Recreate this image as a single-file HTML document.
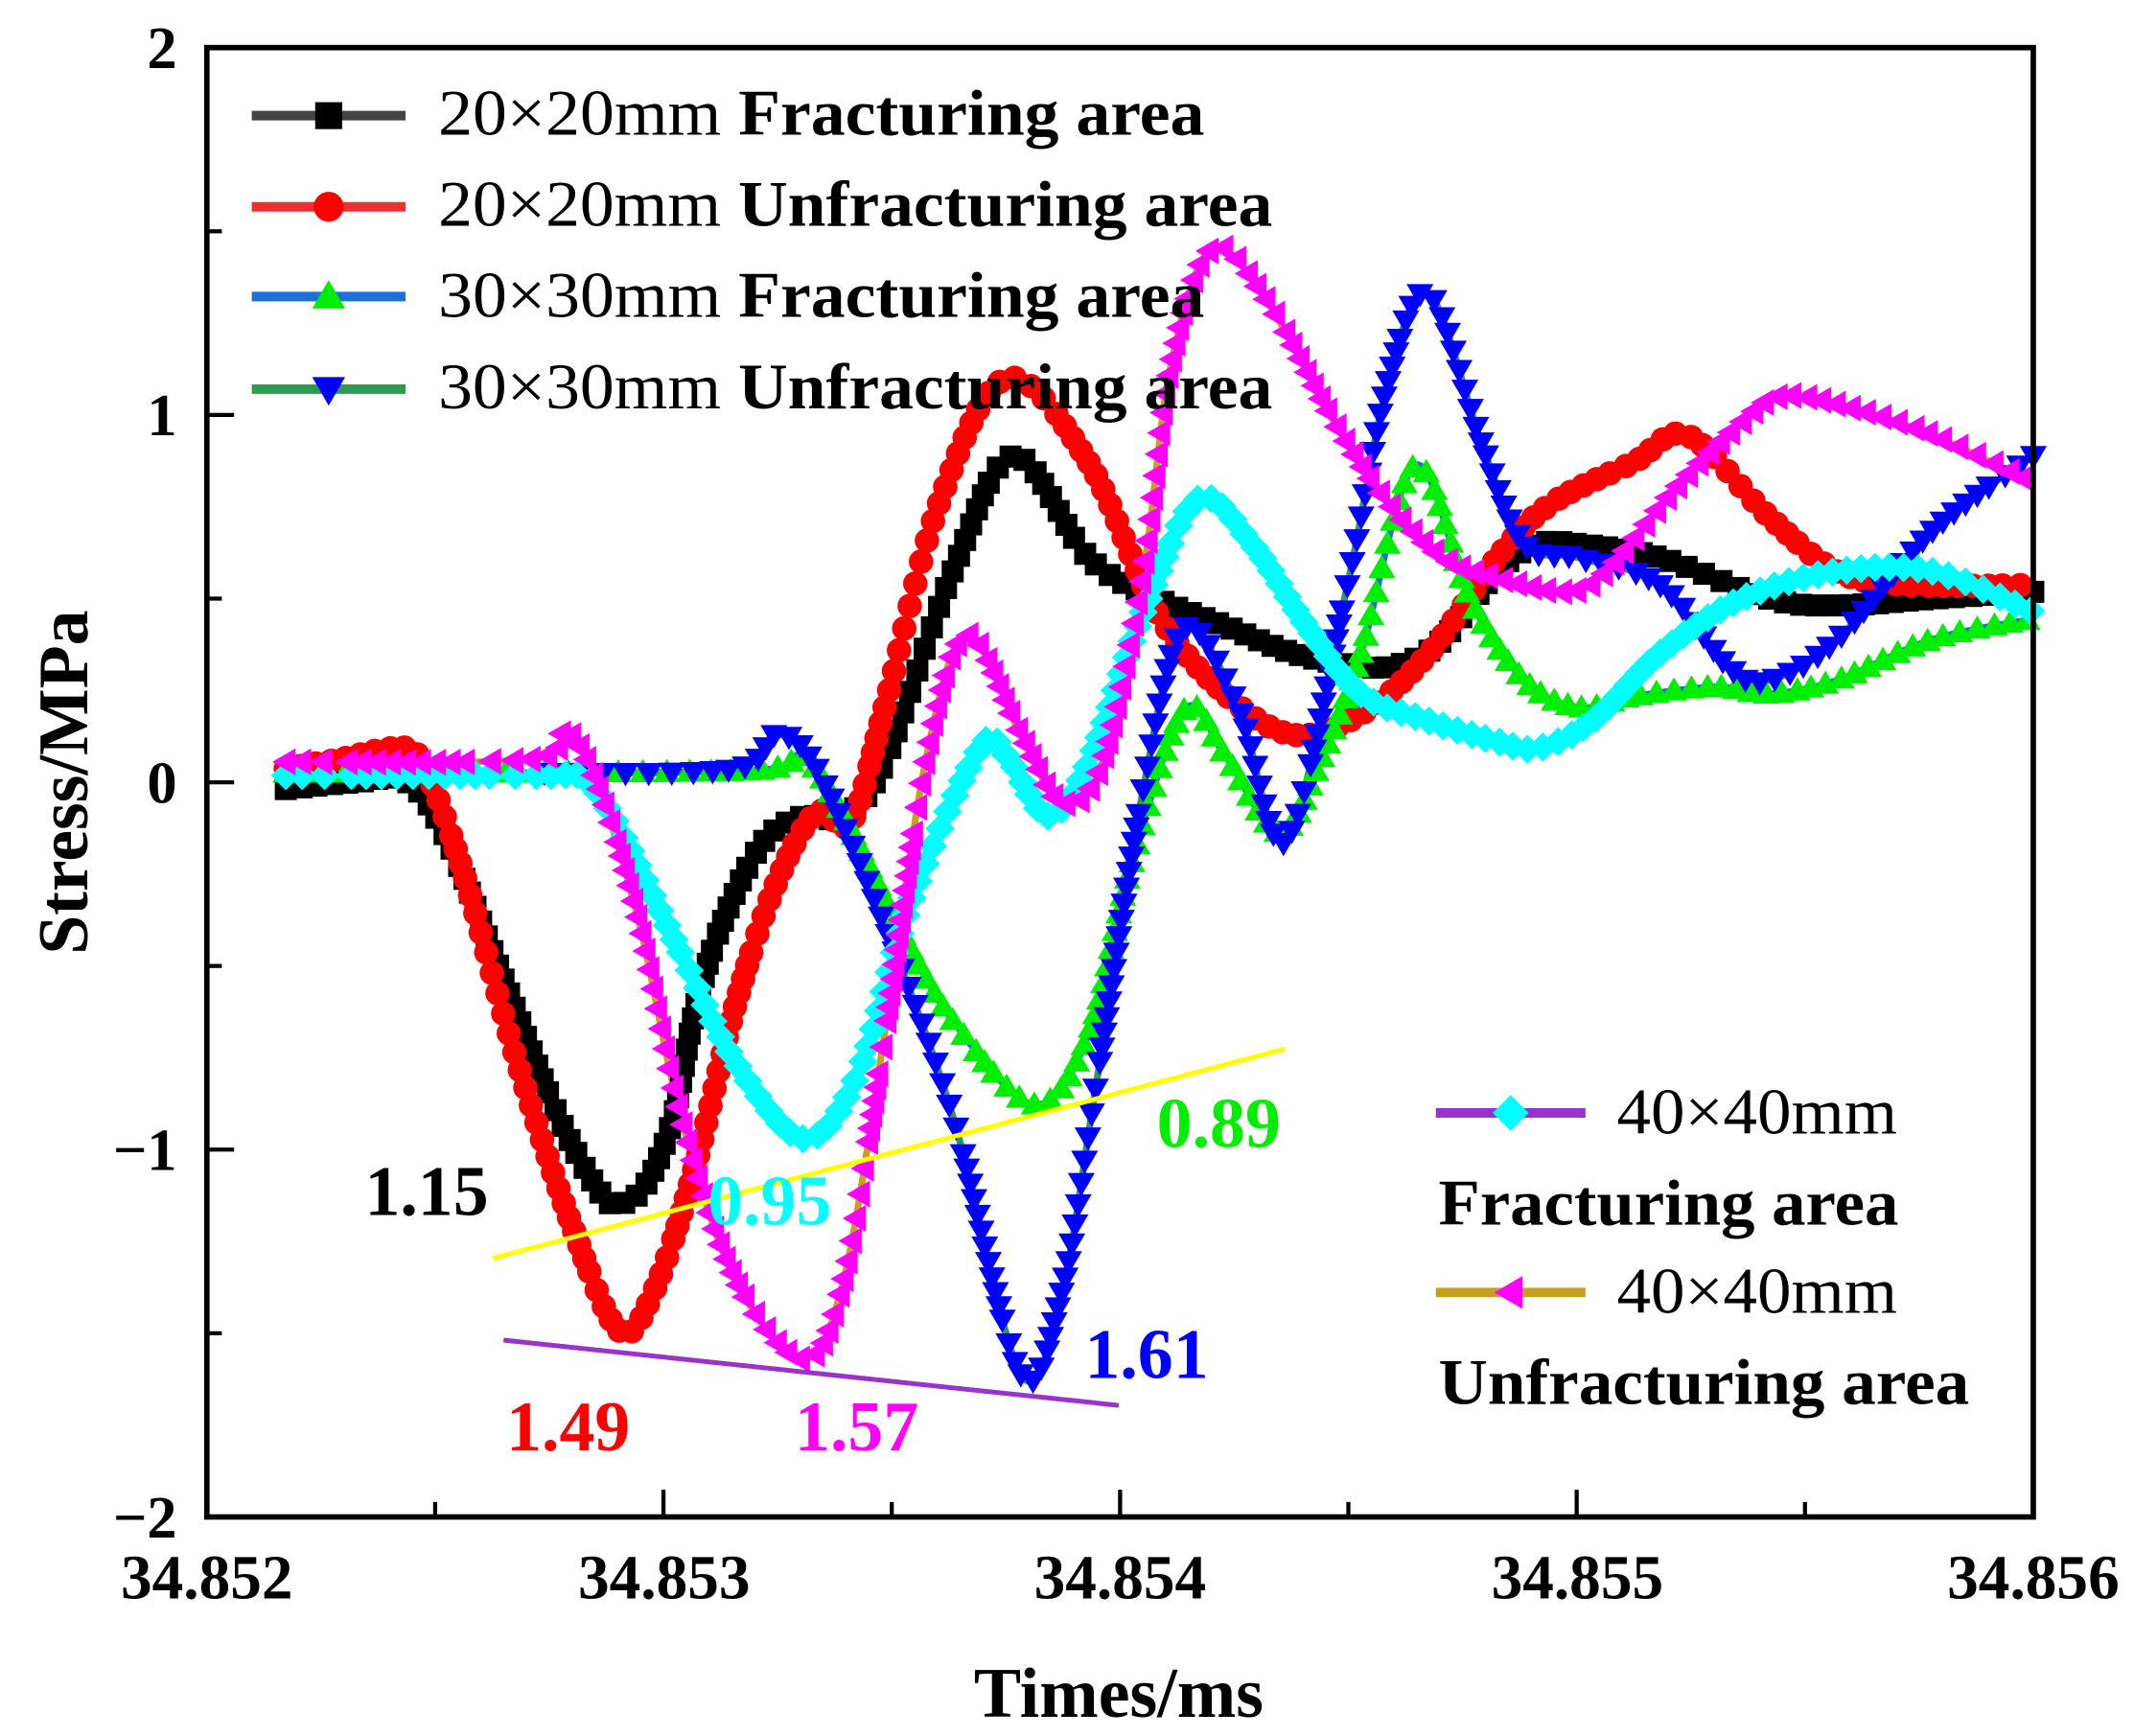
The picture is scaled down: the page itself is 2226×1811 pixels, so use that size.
<!DOCTYPE html>
<html><head><meta charset="utf-8"><style>
html,body{margin:0;padding:0;background:#fff;}
svg{display:block;}
text{font-family:"Liberation Serif",serif;}
</style></head><body>
<svg id="s" width="2226" height="1811" viewBox="0 0 1568 1276" preserveAspectRatio="none" xmlns="http://www.w3.org/2000/svg">
<g id="curves"></g>
<line x1="362" y1="925" x2="944" y2="771" stroke="#ffff00" stroke-width="3.5"/>
<line x1="370" y1="985" x2="822" y2="1033" stroke="#9933cc" stroke-width="3.5"/>
<rect x="152" y="35" width="1342" height="1080" fill="none" stroke="#000" stroke-width="4"/>
<g id="ticks" stroke="#000" stroke-width="3"></g>
<g font-size="44" text-anchor="end" font-weight="bold">
<text x="130" y="50">2</text><text x="130" y="320">1</text><text x="130" y="590">0</text><text x="130" y="860">−1</text><text x="130" y="1130">−2</text>
</g>
<g font-size="46" text-anchor="middle" font-weight="bold">
<text x="152" y="1175">34.852</text><text x="488" y="1175">34.853</text><text x="823" y="1175">34.854</text><text x="1159" y="1175">34.855</text><text x="1494" y="1175">34.856</text>
</g>
<text x="822" y="1262" font-size="52" font-weight="bold" text-anchor="middle">Times/ms</text>
<text transform="translate(64,575) rotate(-90)" font-size="52" font-weight="bold" text-anchor="middle">Stress/MPa</text>
<g font-size="52" font-weight="bold">
<text x="268" y="893" fill="#000">1.15</text>
<text x="520" y="900" fill="#00ffff">0.95</text>
<text x="850" y="843" fill="#00ee00">0.89</text>
<text x="797" y="1013" fill="#0000ff">1.61</text>
<text x="372" y="1066" fill="#ff0000">1.49</text>
<text x="584" y="1066" fill="#ff00ff">1.57</text>
</g>
<g id="leg"></g>
<g font-size="48">
<text x="322" y="99" textLength="563" lengthAdjust="spacingAndGlyphs">20×20mm <tspan font-weight="bold">Fracturing area</tspan></text>
<text x="322" y="166" textLength="613" lengthAdjust="spacingAndGlyphs">20×20mm <tspan font-weight="bold">Unfracturing area</tspan></text>
<text x="322" y="233" textLength="563" lengthAdjust="spacingAndGlyphs">30×30mm <tspan font-weight="bold">Fracturing area</tspan></text>
<text x="322" y="300" textLength="613" lengthAdjust="spacingAndGlyphs">30×30mm <tspan font-weight="bold">Unfracturing area</tspan></text>
<text x="1188" y="833" textLength="206" lengthAdjust="spacingAndGlyphs">40×40mm</text>
<text x="1057" y="900" font-weight="bold" textLength="338" lengthAdjust="spacingAndGlyphs">Fracturing area</text>
<text x="1188" y="965" textLength="206" lengthAdjust="spacingAndGlyphs">40×40mm</text>
<text x="1057" y="1032" font-weight="bold" textLength="390" lengthAdjust="spacingAndGlyphs">Unfracturing area</text>
</g>
</svg>
<script>
var NS="http://www.w3.org/2000/svg";
function el(t,a,p){var e=document.createElementNS(NS,t);for(var k in a)e.setAttribute(k,a[k]);p.appendChild(e);return e;}
var tk=document.getElementById('ticks');
for(var i=0;i<=8;i++){var x=152+i*167.75,L=(i%2==0)?20:11;el('line',{x1:x,y1:1115,x2:x,y2:1115-L},tk);}
for(var i=0;i<=8;i++){var y=35+i*135,L=(i%2==0)?20:11;el('line',{x1:152,y1:y,x2:152+L,y2:y},tk);}
function marker(type,x,y,c,g,s){
 s=s||9;
 if(type=='sq')el('rect',{x:x-s*0.9,y:y-s*0.9,width:1.8*s,height:1.8*s,fill:c},g);
 else if(type=='ci')el('circle',{cx:x,cy:y,r:s,fill:c},g);
 else if(type=='up')el('polygon',{points:(x)+','+(y-s*1.1)+' '+(x-s*1.1)+','+(y+s*0.8)+' '+(x+s*1.1)+','+(y+s*0.8),fill:c},g);
 else if(type=='dn')el('polygon',{points:(x)+','+(y+s*1.1)+' '+(x-s*1.1)+','+(y-s*0.8)+' '+(x+s*1.1)+','+(y-s*0.8),fill:c},g);
 else if(type=='di')el('polygon',{points:x+','+(y-s*1.2)+' '+(x+s*1.2)+','+y+' '+x+','+(y+s*1.2)+' '+(x-s*1.2)+','+y,fill:c},g);
 else if(type=='lt')el('polygon',{points:(x-s*1.1)+','+y+' '+(x+s*0.8)+','+(y-s*1.1)+' '+(x+s*0.8)+','+(y+s*1.1),fill:c},g);
}
function cr(P,n){var out=[];for(var i=0;i<P.length-1;i++){var p0=P[Math.max(0,i-1)],p1=P[i],p2=P[i+1],p3=P[Math.min(P.length-1,i+2)];
 for(var j=0;j<n;j++){var t=j/n,t2=t*t,t3=t2*t;
 out.push([0.5*((2*p1[0])+(-p0[0]+p2[0])*t+(2*p0[0]-5*p1[0]+4*p2[0]-p3[0])*t2+(-p0[0]+3*p1[0]-3*p2[0]+p3[0])*t3),
 0.5*((2*p1[1])+(-p0[1]+p2[1])*t+(2*p0[1]-5*p1[1]+4*p2[1]-p3[1])*t2+(-p0[1]+3*p1[1]-3*p2[1]+p3[1])*t3)]);}}
 out.push(P[P.length-1]);return out;}
var series=[
 {lc:'#222',mc:'#000',m:'sq',p:[[210,580],[260,575],[300,575],[330,620],[370,720],[410,820],[440,875],[455,885],[475,870],[495,820],[510,745],[530,680],[560,620],[590,600],[620,600],[650,560],[700,420],[745,335],[800,410],[850,440],[900,460],[950,480],[1000,490],[1030,488],[1060,470],[1100,420],[1130,400],[1160,400],[1220,410],[1300,440],[1350,445],[1420,440],[1494,435]]},
 {lc:'#f03030',mc:'#ff0000',m:'ci',p:[[210,565],[250,558],[290,550],[310,560],[340,640],[380,780],[420,900],[455,978],[480,950],[510,860],[540,740],[570,650],[600,597],[625,605],[650,520],[690,370],[740,278],[800,340],[850,450],[900,510],[950,540],[1000,525],[1050,480],[1100,410],[1140,370],[1200,340],[1240,320],[1300,380],[1350,420],[1400,430],[1494,430]]},
 {lc:'#1f6fd8',mc:'#00ee00',m:'up',p:[[210,568],[400,568],[560,566],[590,556],[620,600],[660,680],[700,750],[760,812],[800,760],[830,640],[870,522],[900,555],[940,612],[970,560],[1000,480],[1040,342],[1080,440],[1120,500],[1160,520],[1200,512],[1260,505],[1300,510],[1350,500],[1420,470],[1494,455]]},
 {lc:'#2e9a50',mc:'#0000ff',m:'dn',p:[[400,568],[540,565],[570,540],[600,565],[650,680],[700,820],[750,1010],[780,950],[805,800],[840,580],[870,462],[910,520],[945,618],[990,430],[1020,280],[1050,216],[1090,330],[1120,400],[1160,410],[1220,430],[1270,490],[1300,500],[1350,470],[1420,390],[1494,335]]},
 {lc:'#9933cc',mc:'#00ffff',m:'di',p:[[210,570],[400,570],[425,570],[450,600],[500,700],[540,780],[590,837],[630,790],[670,660],[720,550],[740,556],[770,600],[800,560],[840,450],[880,367],[920,400],[960,460],[1000,510],[1050,530],[1100,545],[1130,550],[1170,530],[1220,480],[1280,440],[1350,420],[1420,420],[1494,450]]},
 {lc:'#c8a020',mc:'#ff00ff',m:'lt',p:[[210,560],[390,558],[415,537],[440,580],[470,680],[500,820],[540,940],[590,999],[620,940],[650,760],[680,560],[710,467],[750,540],[780,590],[810,560],[840,420],[860,270],[890,183],[930,220],[980,310],[1020,370],[1060,410],[1100,425],[1150,435],[1180,420],[1230,360],[1280,310],[1310,291],[1360,300],[1420,320],[1494,355]]}
];
var cg=document.getElementById('curves');
series.forEach(function(S){
 var pts=cr(S.p,20);
 el('polyline',{points:pts.map(function(q){return q.join(',')}).join(' '),fill:'none',stroke:S.lc,'stroke-width':5},cg);
});
series.forEach(function(S){
 var pts=cr(S.p,20),acc=0,sp=10;var g=el('g',{},cg);
 marker(S.m,pts[0][0],pts[0][1],S.mc,g);
 for(var i=1;i<pts.length;i++){var dx=pts[i][0]-pts[i-1][0],dy=pts[i][1]-pts[i-1][1];acc+=Math.sqrt(dx*dx+dy*dy);
  if(acc>=sp){acc=0;marker(S.m,pts[i][0],pts[i][1],S.mc,g);}}
});
var lg=document.getElementById('leg');
var L=[[185,298,85,'#444','#000','sq'],[185,298,152,'#f03030','#ff0000','ci'],[185,298,218,'#1f6fd8','#00ee00','up'],[185,298,286,'#2e9a50','#0000ff','dn'],[1055,1165,818,'#9933cc','#00ffff','di'],[1055,1165,950,'#c8a020','#ff00ff','lt']];
L.forEach(function(a){el('line',{x1:a[0],y1:a[2],x2:a[1],y2:a[2],stroke:a[3],'stroke-width':7},lg);marker(a[5],(a[0]+a[1])/2,a[2],a[4],lg,11);});
</script>
</body></html>
